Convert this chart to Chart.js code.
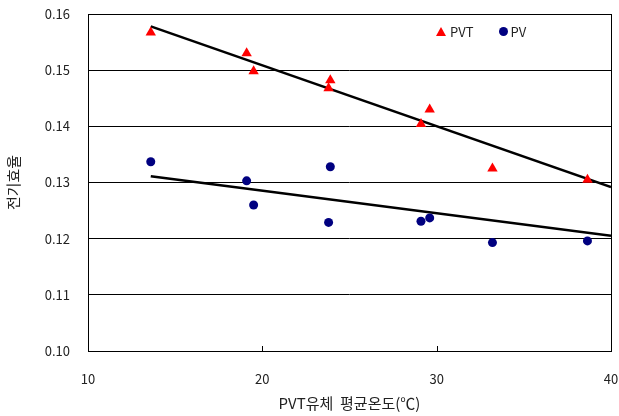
<!DOCTYPE html>
<html>
<head>
<meta charset="utf-8">
<script src="https://cdn.jsdelivr.net/npm/chart.js@4"></script>
<style>
  html, body { margin: 0; padding: 0; background: #fff; }
  #wrap { position: relative; width: 619px; height: 416px; }
  #legend {
    position: absolute; left: 436px; top: 22px;
    font: 13px "Noto Sans CJK KR", "Noto Sans", sans-serif; color: #222;
    display: flex; align-items: center;
  }
  .tri { width: 0; height: 0; border-left: 5px solid transparent; border-right: 5px solid transparent;
         border-bottom: 9px solid #ff0000; margin-right: 4px; }
  .dot { width: 9px; height: 9px; border-radius: 50%; background: #000080; margin-right: 3px; margin-left: 25px; }
</style>
</head>
<body>
<div id="wrap">
  <canvas id="chart" width="619" height="416"></canvas>
  <div id="legend"><span class="tri"></span>PVT<span class="dot"></span>PV</div>
</div>
<script>
// temperatures (x) and efficiencies
const pvtTemp = [13.6, 19.1, 19.5, 23.9, 23.8, 29.6, 29.1, 33.2, 38.65];
const pvtEff  = [0.1567, 0.1530, 0.1498, 0.1482, 0.1468, 0.1430, 0.1404, 0.1325, 0.1305];
const pvTemp  = [13.6, 19.1, 19.5, 23.9, 23.8, 29.1, 29.6, 33.2, 38.65];
const pvEff   = [0.1337, 0.1303, 0.1260, 0.1328, 0.1229, 0.1231, 0.1237, 0.1193, 0.1196];

// trend lines: start / end
const pvtTrendX = [13.6, 40];
const pvtTrendY = [0.1578, 0.1292];
const pvTrendX  = [13.6, 40];
const pvTrendY  = [0.1311, 0.1205];

const xTicks = [10, 20, 30, 40];
const yTicks = [0.10, 0.11, 0.12, 0.13, 0.14, 0.15, 0.16];

const toPts = (xs, ys) => xs.map((x, i) => ({ x: x, y: ys[i] }));
const fontFamily = '"Noto Sans CJK KR", "Noto Sans", sans-serif';

// box around the plot area + small inward ticks on the x axis
const frame = {
    id: 'frame',
    afterDraw(chart) {
        const { ctx, chartArea: a, scales } = chart;
        ctx.save();
        ctx.strokeStyle = '#000';
        ctx.lineWidth = 1;
        ctx.strokeRect(a.left + 0.5, a.top + 0.5, a.right - a.left, a.bottom - a.top);
        xTicks.forEach(t => {
            const px = Math.round(scales.x.getPixelForValue(t)) + 0.5;
            ctx.beginPath();
            ctx.moveTo(px, a.bottom);
            ctx.lineTo(px, a.bottom - 5);
            ctx.stroke();
        });
        ctx.restore();
    }
};

new Chart(document.getElementById('chart'), {
    type: 'scatter',
    data: {
        datasets: [
            {
                label: 'PVT',
                data: toPts(pvtTemp, pvtEff),
                pointStyle: 'triangle',
                pointRadius: 6,
                backgroundColor: '#ff0000',
                borderColor: '#ff0000',
                borderWidth: 0
            },
            {
                label: 'PV',
                data: toPts(pvTemp, pvEff),
                pointStyle: 'circle',
                pointRadius: 4.5,
                backgroundColor: '#000080',
                borderColor: '#000080',
                borderWidth: 0
            },
            {
                label: 'PVT trend',
                data: toPts(pvtTrendX, pvtTrendY),
                showLine: true,
                pointRadius: 0,
                borderColor: '#000',
                borderWidth: 2.5
            },
            {
                label: 'PV trend',
                data: toPts(pvTrendX, pvTrendY),
                showLine: true,
                pointRadius: 0,
                borderColor: '#000',
                borderWidth: 2.5
            }
        ]
    },
    options: {
        responsive: false,
        animation: false,
        layout: { padding: { top: 14, right: 8, left: 0, bottom: 0 } },
        plugins: {
            legend: { display: false },
            tooltip: { enabled: false }
        },
        scales: {
            x: {
                type: 'linear',
                min: 10, max: 40,
                afterBuildTicks: s => { s.ticks = xTicks.map(v => ({ value: v })); },
                grid: { display: false },
                border: { display: false },
                ticks: { color: '#222', font: { family: fontFamily, size: 13 }, padding: 12, maxRotation: 0 },
                title: { display: true, text: 'PVT유체  평균온도(℃)', color: '#222',
                         font: { family: fontFamily, size: 15 }, padding: { top: 8 } },
                afterFit: s => { s.height = 65; s.paddingLeft = 0; s.paddingRight = 0; }
            },
            y: {
                min: 0.10, max: 0.16,
                afterBuildTicks: s => { s.ticks = yTicks.map(v => ({ value: v })); },
                grid: { color: '#000', lineWidth: 1, drawTicks: false },
                border: { display: false },
                ticks: { color: '#222', font: { family: fontFamily, size: 13 }, padding: 18,
                         callback: v => v.toFixed(2) },
                title: { display: true, text: '전기효율', color: '#222',
                         font: { family: fontFamily, size: 15 }, padding: { bottom: 0 } },
                afterFit: s => { s.width = 88; s.paddingTop = 0; s.paddingBottom = 0; }
            }
        }
    },
    plugins: [frame]
});
</script>
</body>
</html>
